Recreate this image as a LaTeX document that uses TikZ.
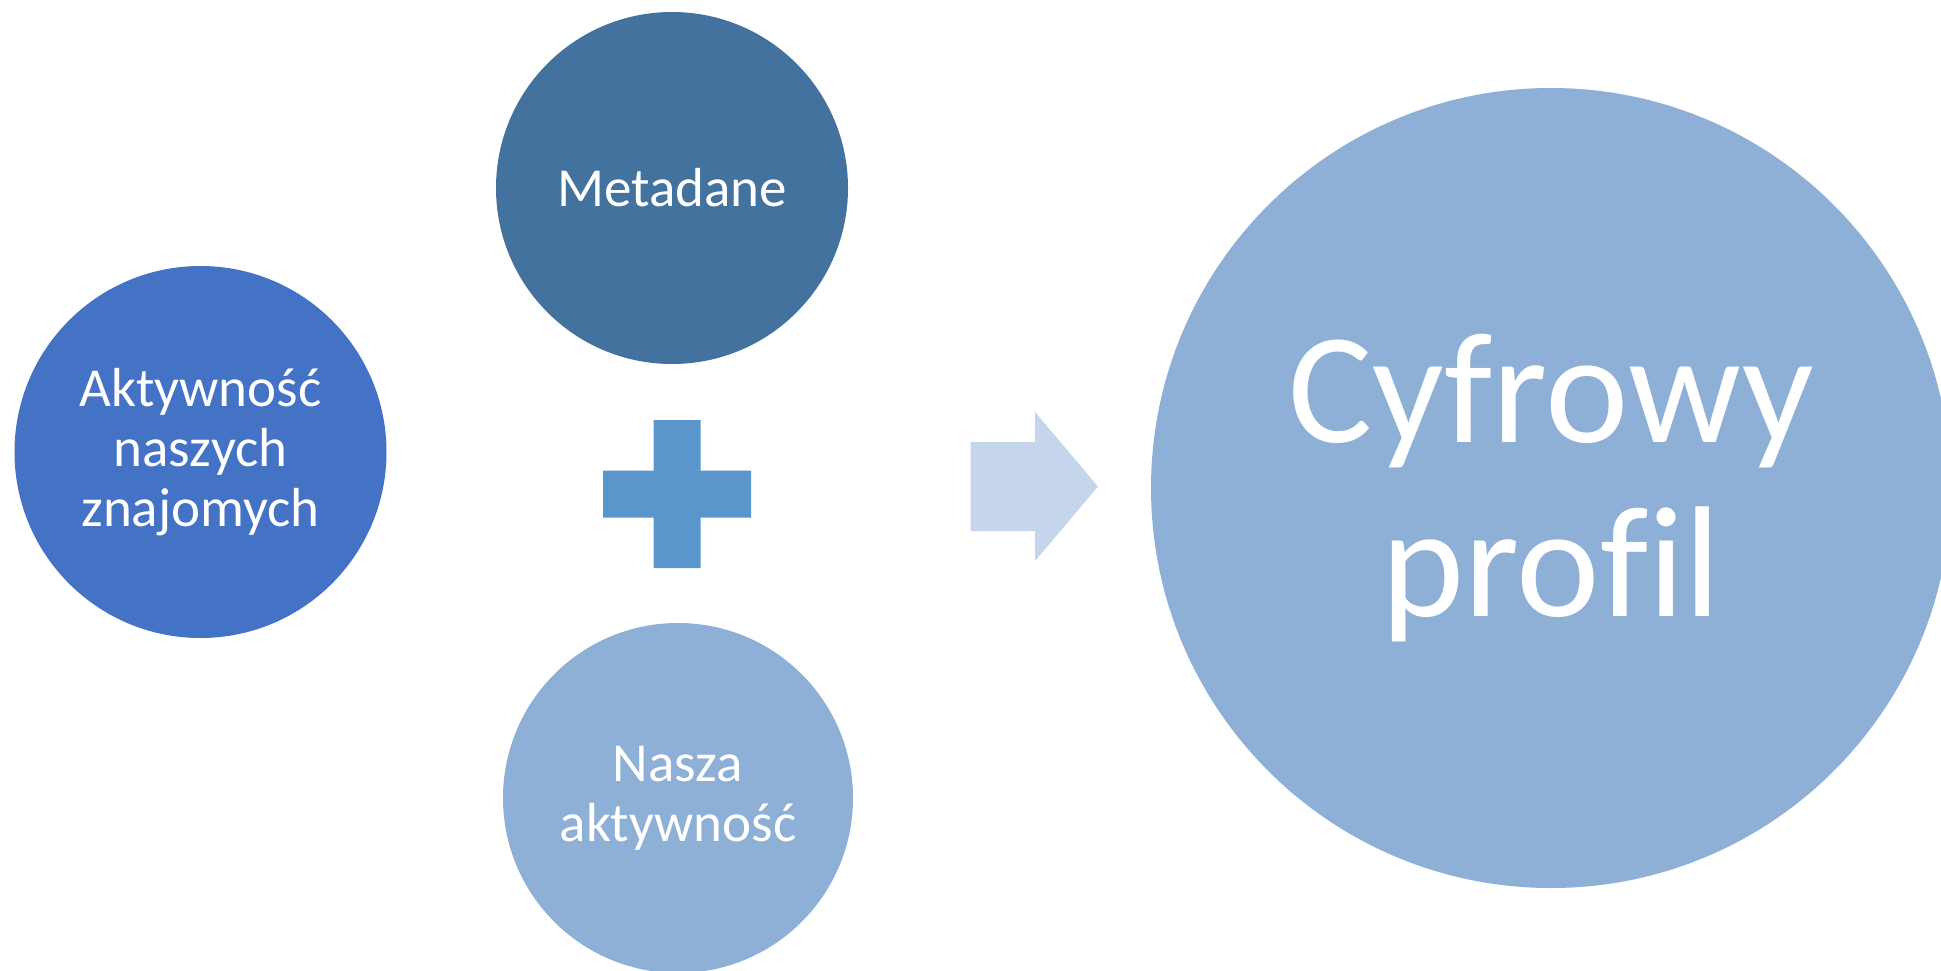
\documentclass[tikz,border=0pt]{standalone}
\usepackage{fontspec}
\setmainfont{Carlito}[Ligatures=NoCommon]
\definecolor{cDark}{HTML}{4472C4}
\definecolor{cSteel}{HTML}{43729F}
\definecolor{cLight}{HTML}{8EAFD6}
\definecolor{cPlus}{HTML}{5A96CC}
\definecolor{cArrow}{HTML}{C5D5EB}
\tikzset{
  bubble/.style={circle, inner sep=0pt, text=white, align=center},
  smalltext/.style={font=\fontsize{55}{60}\selectfont},
  bigtext/.style={font=\fontsize{158}{174}\selectfont},
}
\begin{document}
\begin{tikzpicture}[x=1pt, y=-1pt]
  \useasboundingbox (0,0) rectangle (1941,970);
  \clip (0,0) rectangle (1941,970);
  % input bubbles
  \node[bubble, smalltext, fill=cDark, minimum size=372pt] (friends) at (200.5,452)
    {Aktywność\\naszych\\znajomych};
  \node[bubble, smalltext, fill=cSteel, minimum size=352pt] (meta) at (672,188)
    {Metadane};
  \node[bubble, smalltext, fill=cLight, minimum size=350pt] (own) at (678,798)
    {Nasza\\aktywność};
  % result bubble
  \node[bubble, bigtext, fill=cLight, minimum size=800pt] (profile) at (1551,488)
    {Cyfrowy\\profil};
  % plus sign
  \coordinate (plus) at (677,494);
  \fill[cPlus] ([xshift=-23.5pt, yshift=74pt]plus) -- ([xshift=23.5pt, yshift=74pt]plus)
    -- ([xshift=23.5pt, yshift=23.5pt]plus) -- ([xshift=74pt, yshift=23.5pt]plus)
    -- ([xshift=74pt, yshift=-23.5pt]plus) -- ([xshift=23.5pt, yshift=-23.5pt]plus)
    -- ([xshift=23.5pt, yshift=-74pt]plus) -- ([xshift=-23.5pt, yshift=-74pt]plus)
    -- ([xshift=-23.5pt, yshift=-23.5pt]plus) -- ([xshift=-74pt, yshift=-23.5pt]plus)
    -- ([xshift=-74pt, yshift=23.5pt]plus) -- ([xshift=-23.5pt, yshift=23.5pt]plus) -- cycle;
  % arrow
  \fill[cArrow] (970.5,442) -- (1035,442) -- (1035,412) -- (1098,486.5)
    -- (1035,561) -- (1035,531) -- (970.5,531) -- cycle;
\end{tikzpicture}
\end{document}
